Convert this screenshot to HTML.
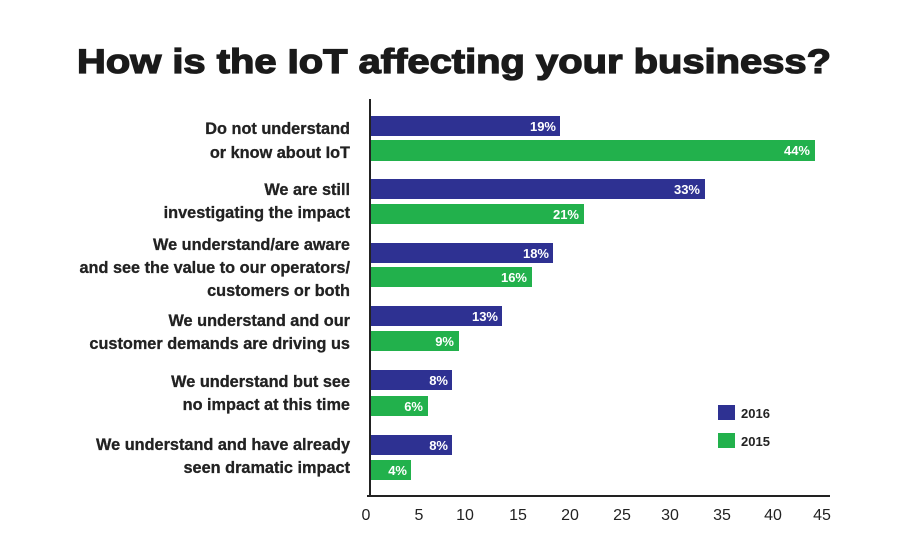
<!DOCTYPE html>
<html><head><meta charset="utf-8"><style>
html,body{margin:0;padding:0;background:#fff;}
svg{display:block;font-family:"Liberation Sans",Arial,sans-serif;}
</style></head><body>
<svg width="900" height="550" viewBox="0 0 900 550">
<rect width="900" height="550" fill="#fff"/>
<text x="454" y="73" text-anchor="middle" font-size="34" font-weight="bold" fill="#1a1a1a" stroke="#1a1a1a" stroke-width="1.3" textLength="754" lengthAdjust="spacingAndGlyphs">How is the IoT affecting your business?</text>
<g font-size="16.3" font-weight="bold" fill="#222" text-anchor="end" stroke="#222" stroke-width="0.3">
<text x="350" y="134">Do not understand</text>
<text x="350" y="158">or know about IoT</text>
<text x="350" y="195">We are still</text>
<text x="350" y="218">investigating the impact</text>
<text x="350" y="250">We understand/are aware</text>
<text x="350" y="273">and see the value to our operators/</text>
<text x="350" y="296">customers or both</text>
<text x="350" y="326">We understand and our</text>
<text x="350" y="349">customer demands are driving us</text>
<text x="350" y="387">We understand but see</text>
<text x="350" y="410">no impact at this time</text>
<text x="350" y="450">We understand and have already</text>
<text x="350" y="473">seen dramatic impact</text>
</g>
<g>
<rect x="370" y="116" width="190" height="20" fill="#2e3192"/>
<rect x="370" y="140" width="445" height="21" fill="#22b14c"/>
<rect x="370" y="179" width="335" height="20" fill="#2e3192"/>
<rect x="370" y="204" width="214" height="20" fill="#22b14c"/>
<rect x="370" y="243" width="183" height="20" fill="#2e3192"/>
<rect x="370" y="267" width="162" height="20" fill="#22b14c"/>
<rect x="370" y="306" width="132" height="20" fill="#2e3192"/>
<rect x="370" y="331" width="89" height="20" fill="#22b14c"/>
<rect x="370" y="370" width="82" height="20" fill="#2e3192"/>
<rect x="370" y="396" width="58" height="20" fill="#22b14c"/>
<rect x="370" y="435" width="82" height="20" fill="#2e3192"/>
<rect x="370" y="460" width="41" height="20" fill="#22b14c"/>
</g>
<g font-size="13" font-weight="bold" fill="#fff" text-anchor="end">
<text x="556" y="131">19%</text>
<text x="810" y="155">44%</text>
<text x="700" y="194">33%</text>
<text x="579" y="219">21%</text>
<text x="549" y="258">18%</text>
<text x="527" y="282">16%</text>
<text x="498" y="321">13%</text>
<text x="454" y="346">9%</text>
<text x="448" y="385">8%</text>
<text x="423" y="411">6%</text>
<text x="448" y="450">8%</text>
<text x="407" y="475">4%</text>
</g>
<line x1="370" y1="99" x2="370" y2="497" stroke="#222" stroke-width="2"/>
<line x1="367" y1="496" x2="830" y2="496" stroke="#222" stroke-width="2"/>
<g font-size="16" fill="#222" text-anchor="middle">
<text x="366" y="520">0</text>
<text x="419" y="520">5</text>
<text x="465" y="520">10</text>
<text x="518" y="520">15</text>
<text x="570" y="520">20</text>
<text x="622" y="520">25</text>
<text x="670" y="520">30</text>
<text x="722" y="520">35</text>
<text x="773" y="520">40</text>
<text x="822" y="520">45</text>
</g>
<rect x="718" y="405" width="17" height="15" fill="#2e3192"/>
<rect x="718" y="433" width="17" height="15" fill="#22b14c"/>
<g font-size="13" font-weight="bold" fill="#222">
<text x="741" y="418">2016</text>
<text x="741" y="446">2015</text>
</g>
</svg>
</body></html>
